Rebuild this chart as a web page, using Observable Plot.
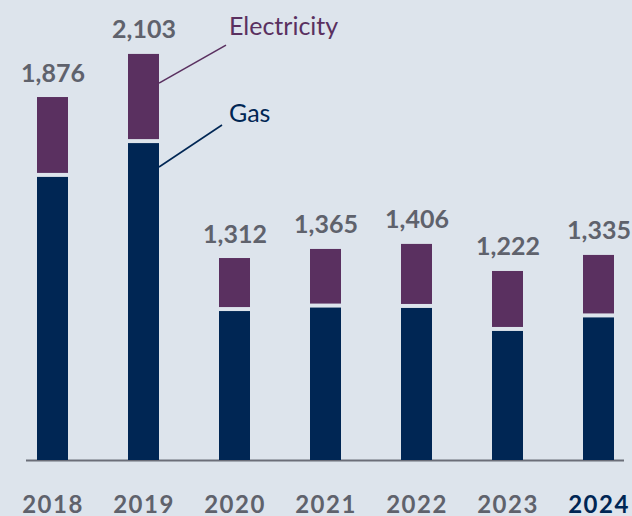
<!DOCTYPE html>
<html>
<head>
<meta charset="utf-8">
<script src="https://cdn.jsdelivr.net/npm/d3@7"></script>
<script src="https://cdn.jsdelivr.net/npm/@observablehq/plot@0.6"></script>
<style>
  html, body { margin: 0; padding: 0; background: #dde4ec; }
  svg { display: block; }
</style>
</head>
<body>
<div id="chart"></div>
<script>
// Data (bar heights; totals as labelled)
const years = ["2018", "2019", "2020", "2021", "2022", "2023", "2024"];
const gas = [1475, 1650, 781, 799, 797, 678, 748];
const electricity = [403, 451, 264, 293, 321, 300, 313];
const totals = [1876, 2103, 1312, 1365, 1406, 1222, 1335];
const highlightYear = "2024";
const seriesNames = ["Electricity", "Gas"];

const bg = "#dde4ec";
const navy = "#002654";
const purple = "#5a3060";
const grey = "#5f626c";
const axisGrey = "#6b6e78";

const rows = years.map((year, i) => ({
  year,
  gas: gas[i],
  elecTop: gas[i] + electricity[i],
  total: totals[i]
}));

const plot = Plot.plot({
  width: 632,
  height: 516,
  marginTop: 0,
  marginBottom: 56,
  marginLeft: 26,
  marginRight: 8,
  style: { background: bg, fontFamily: "Lato, sans-serif", overflow: "visible" },
  x: { domain: years, paddingInner: 0.662, paddingOuter: 0.0927, axis: null },
  y: { domain: [0, 2380], axis: null },
  marks: [
    Plot.ruleY([0], { stroke: axisGrey, strokeWidth: 2 }),
    Plot.barY(rows, { x: "year", y: "gas", fill: navy, insetTop: 2 }),
    Plot.barY(rows, { x: "year", y1: "gas", y2: "elecTop", fill: purple, insetBottom: 2 }),
    Plot.text(rows, {
      x: "year", y: "elecTop", text: d => d3.format(",")(d.total),
      dy: -16, lineAnchor: "bottom", fontSize: 25, fontWeight: "bold", fill: grey
    }),
    Plot.text(years, {
      x: d => d, frameAnchor: "bottom", dy: 35, lineAnchor: "top",
      fontSize: 24, fontWeight: "bold",
      fill: d => d === highlightYear ? navy : grey
    })
  ]
});

document.getElementById("chart").appendChild(plot);
const svg = d3.select(plot);

// slightly wider tracking on the year labels
svg.selectAll("text")
  .filter(function () { return years.includes(this.textContent); })
  .style("letter-spacing", "1.5px");

// Leader-line annotations anchored to the 2019 bar through the plot's scales
const sx = plot.scale("x"), sy = plot.scale("y");
const barRight = sx.apply("2019") + sx.bandwidth;
const notes = [
  { name: seriesNames[0], value: 1950, color: purple, ex: 67, ey: -38, tx: 70, ty: -48 },
  { name: seriesNames[1], value: 1516, color: navy, ex: 63, ey: -42, tx: 70, ty: -45 }
];
for (const n of notes) {
  const y0 = sy.apply(n.value);
  svg.append("line")
    .attr("x1", barRight).attr("y1", y0)
    .attr("x2", barRight + n.ex).attr("y2", y0 + n.ey)
    .attr("stroke", n.color).attr("stroke-width", 1.6);
  svg.append("text")
    .attr("x", barRight + n.tx).attr("y", y0 + n.ty)
    .attr("text-anchor", "start")
    .attr("fill", n.color)
    .attr("font-family", "Lato, sans-serif")
    .attr("font-size", 25)
    .text(n.name);
}
</script>
</body>
</html>
